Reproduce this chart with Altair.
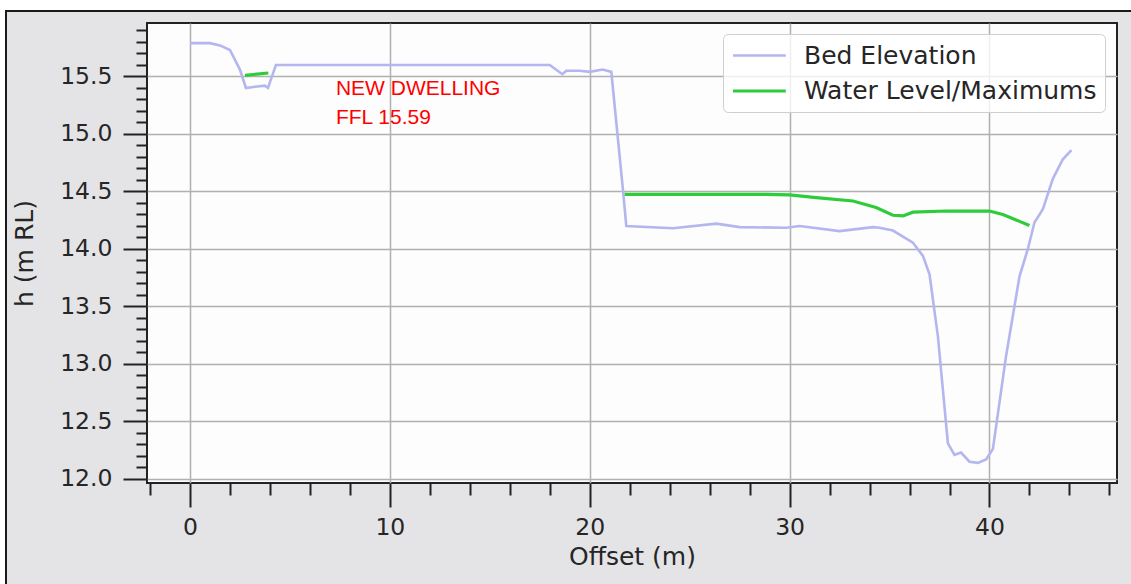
import altair as alt
import pandas as pd

# Surveyed bed profile across the section (offset in m, level in m RL)
bed_offset = [0.0, 1.0, 1.5, 2.0, 2.5, 2.8, 3.25, 3.75, 3.9, 4.3,
              18.0, 18.63, 18.83, 19.5, 20.0, 20.65, 21.08, 21.67, 21.83, 24.17,
              26.33, 27.5, 29.83, 30.5, 32.5, 34.17, 34.5, 35.17, 36.17, 36.67,
              37.0, 37.42, 37.92, 38.25, 38.58, 39.0, 39.42, 39.83, 40.17, 40.83,
              41.5, 41.92, 42.25, 42.67, 43.17, 43.67, 44.1]
bed_level = [15.79, 15.79, 15.77, 15.73, 15.56, 15.40, 15.41, 15.42, 15.40, 15.60,
             15.60, 15.52, 15.55, 15.55, 15.54, 15.56, 15.54, 14.50, 14.20, 14.18,
             14.22, 14.19, 14.185, 14.20, 14.155, 14.19, 14.185, 14.16, 14.055, 13.94,
             13.78, 13.24, 12.31, 12.21, 12.23, 12.15, 12.14, 12.17, 12.26, 13.07,
             13.76, 14.00, 14.23, 14.345, 14.61, 14.78, 14.86]

# Peak water level, in two wetted reaches
wl_reach = ["upper", "upper"] + ["lower"] * 13
wl_offset = [2.75, 3.92,
             21.75, 28.8, 30.0, 31.33, 33.17, 34.33, 35.17, 35.67, 36.17, 37.83, 40.0, 40.67, 42.0]
wl_level = [15.51, 15.53,
            14.475, 14.475, 14.47, 14.447, 14.417, 14.36, 14.293, 14.287, 14.32, 14.33, 14.33, 14.30, 14.205]

series_names = ["Bed Elevation", "Water Level/Maximums"]
series_colors = ["#b3b6ef", "#2ecc3a"]
series_widths = [2.6, 3.2]

# Floor level note
note_lines = ["NEW DWELLING", "FFL 15.59"]
note_offset = [7.3, 7.3]
note_level = [15.342, 15.090]

x_major = [0, 10, 20, 30, 40]
x_minor = [v for v in range(-2, 47, 2) if v % 10]
y_major = [12.0, 12.5, 13.0, 13.5, 14.0, 14.5, 15.0, 15.5]
y_minor = [round(12.0 + 0.1 * i, 1) for i in range(40) if i % 5]

bed = pd.DataFrame({"offset": bed_offset, "level": bed_level,
                    "series": series_names[0], "reach": "bed"})
wl = pd.DataFrame({"offset": wl_offset, "level": wl_level,
                   "series": series_names[1], "reach": wl_reach})
profiles = pd.concat([bed, wl], ignore_index=True)
notes = pd.DataFrame({"offset": note_offset, "level": note_level, "text": note_lines})

x_scale = alt.Scale(domain=[-2.15, 46.38], nice=False, zero=False)
y_scale = alt.Scale(domain=[11.965, 15.965], nice=False, zero=False)

FONT = "DejaVu Sans"
INK = "#262626"

# Page frame: white margin strip with a dark border line (top and left)
one = pd.DataFrame({"k": [0]})
strip_top = alt.Chart(one).mark_rect(color="white").encode(
    x=alt.value(-147), x2=alt.value(984), y=alt.value(-23), y2=alt.value(-13))
strip_left = alt.Chart(one).mark_rect(color="white").encode(
    x=alt.value(-147), x2=alt.value(-142), y=alt.value(-23), y2=alt.value(561))
border_top = alt.Chart(one).mark_rule(color="#1a1a1a", strokeWidth=2).encode(
    x=alt.value(-142), x2=alt.value(984), y=alt.value(-12))
border_left = alt.Chart(one).mark_rule(color="#1a1a1a", strokeWidth=2).encode(
    x=alt.value(-141), y=alt.value(-12), y2=alt.value(561))

# Minor ticks carried by an invisible layer
minor = alt.Chart(bed).mark_line(opacity=0).encode(
    x=alt.X("offset:Q", scale=x_scale,
            axis=alt.Axis(orient="bottom", values=x_minor, labels=False, tickSize=12,
                          grid=False, domain=False, title=None)),
    y=alt.Y("level:Q", scale=y_scale,
            axis=alt.Axis(orient="left", values=y_minor, labels=False, tickSize=11,
                          grid=False, domain=False, title=None)),
)

lines = alt.Chart(profiles).mark_line().encode(
    x=alt.X("offset:Q", scale=x_scale,
            axis=alt.Axis(orient="bottom", values=x_major, format="d", title="Offset (m)",
                          tickSize=24, labelPadding=8, titlePadding=6, grid=True)),
    y=alt.Y("level:Q", scale=y_scale,
            axis=alt.Axis(orient="left", values=y_major, format=".1f", title="h (m RL)",
                          tickSize=24, labelPadding=11, titlePadding=22, grid=True)),
    color=alt.Color("series:N", scale=alt.Scale(domain=series_names, range=series_colors),
                    legend=alt.Legend(title=None, orient="none", legendX=576, legendY=11,
                                      symbolType="M-1,0H3.4", symbolSize=576,
                                      symbolStrokeWidth=3, labelFontSize=25,
                                      labelFont=FONT, labelColor=INK, labelOffset=45,
                                      labelLimit=500, padding=8, rowPadding=8,
                                      fillColor="rgba(255,255,255,0.8)",
                                      strokeColor="#cfcfcf", cornerRadius=5)),
    strokeWidth=alt.StrokeWidth("series:N",
                                scale=alt.Scale(domain=series_names, range=series_widths),
                                legend=None),
    detail="reach:N",
)

labels = alt.Chart(notes).mark_text(
    align="left", baseline="alphabetic", font="Liberation Sans", fontSize=21, color="#ff0000"
).encode(
    x=alt.X("offset:Q", scale=x_scale, axis=None),
    y=alt.Y("level:Q", scale=y_scale, axis=None),
    text="text:N",
)

chart = alt.layer(
    strip_top, strip_left, border_top, border_left, minor, lines, labels
).resolve_axis(
    x="independent", y="independent"
).properties(
    width=970, height=460, background="#e4e4e6",
    padding={"left": 147, "top": 23, "right": 14, "bottom": 101},
    autosize=alt.AutoSizeParams(type="none"),
).configure_view(
    fill="#fdfdfd", stroke="#222222", strokeWidth=2
).configure_axis(
    labelFont=FONT, titleFont=FONT, labelFontSize=23.5, titleFontSize=25,
    titleFontWeight="normal", labelColor=INK, titleColor=INK,
    tickColor="#222222", tickWidth=2, gridColor="#b0b0b0", gridWidth=1.5, domain=False,
)

chart.save("out.html", embed_options={"renderer": "svg", "actions": False})
